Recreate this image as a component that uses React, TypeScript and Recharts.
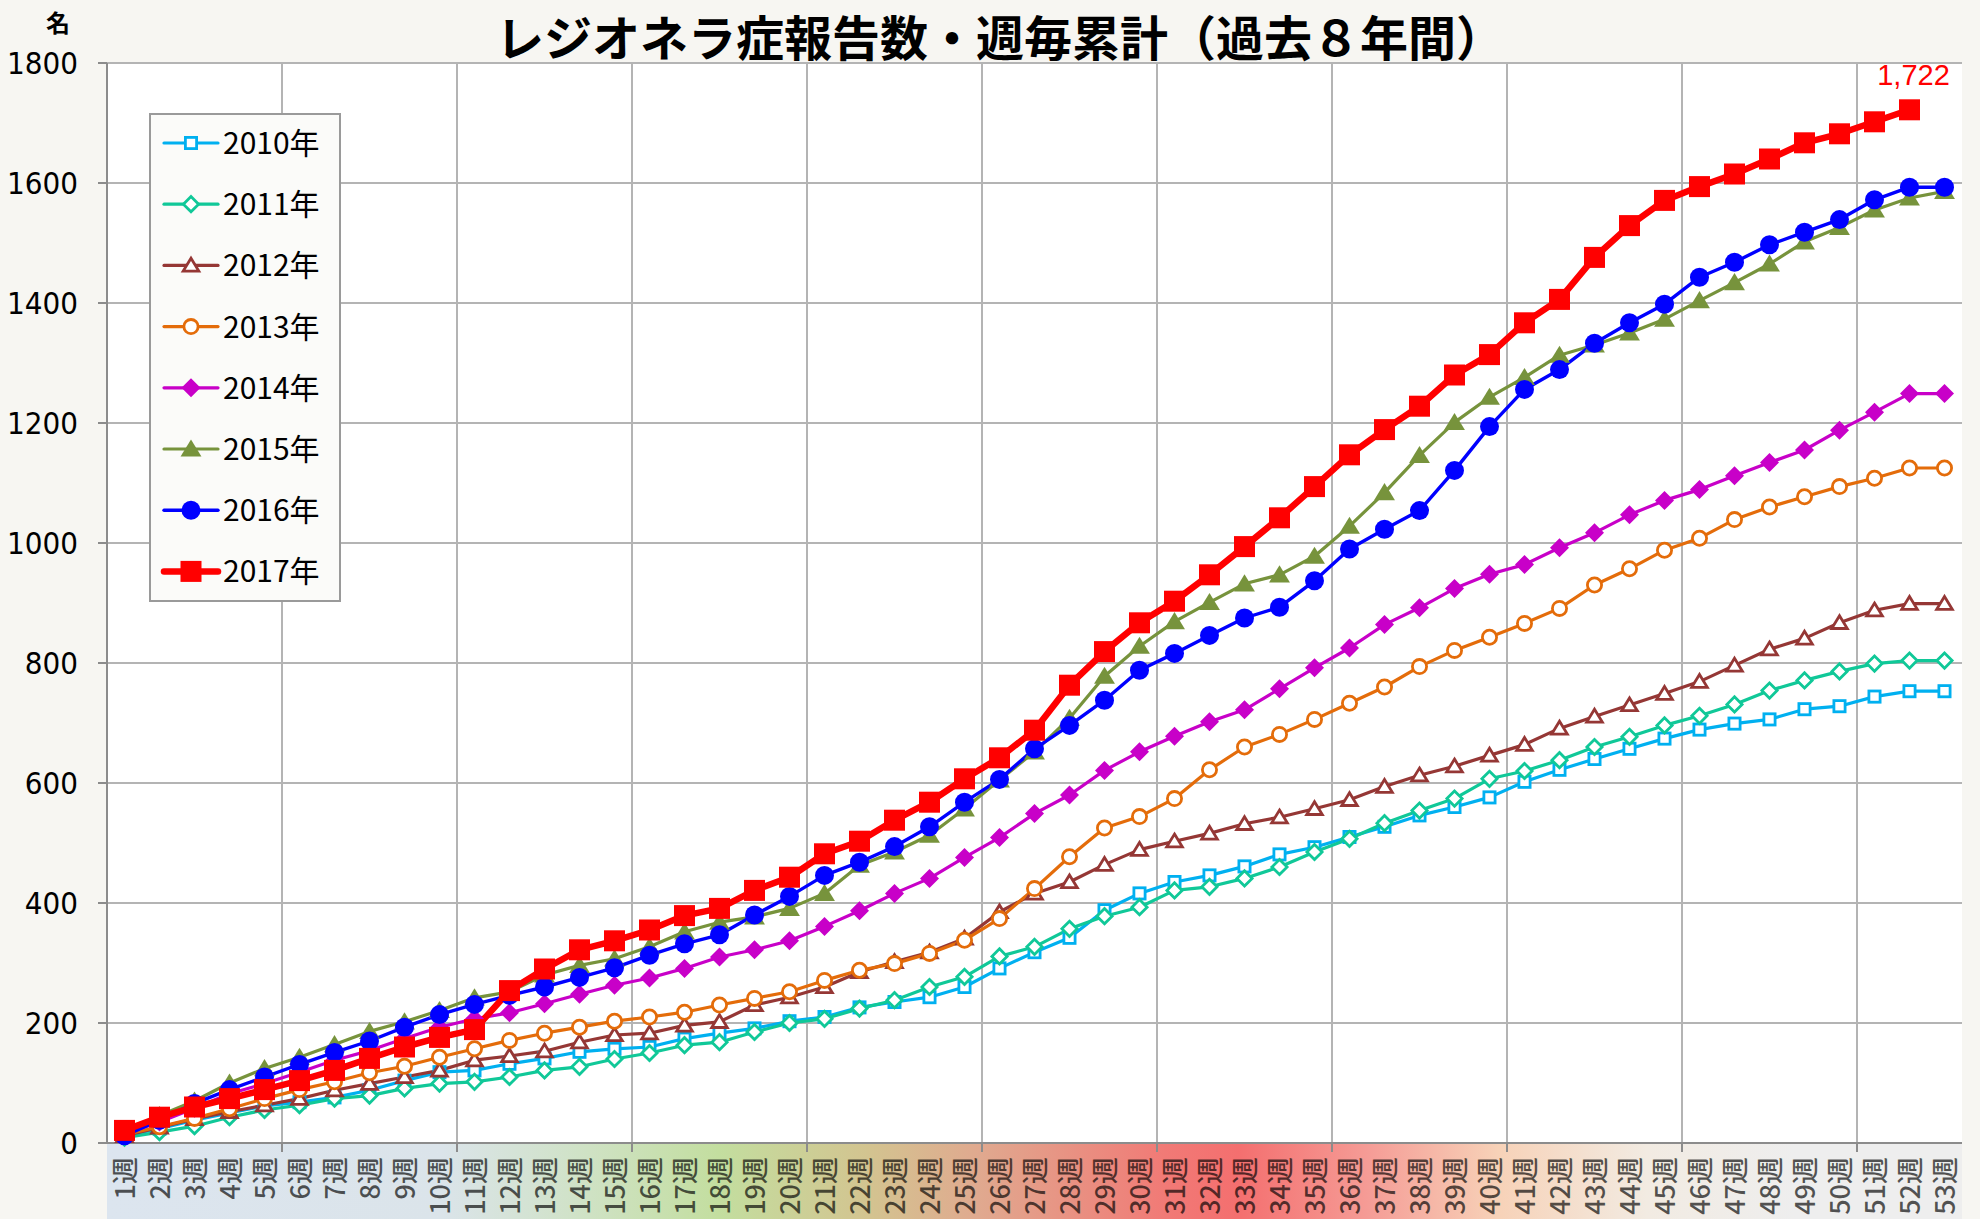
import React from 'react';
import { LineChart, Line, XAxis, YAxis, CartesianGrid, LabelList } from 'recharts';

const weeks = ['1週','2週','3週','4週','5週','6週','7週','8週','9週','10週','11週','12週','13週','14週','15週','16週','17週','18週','19週','20週','21週','22週','23週','24週','25週','26週','27週','28週','29週','30週','31週','32週','33週','34週','35週','36週','37週','38週','39週','40週','41週','42週','43週','44週','45週','46週','47週','48週','49週','50週','51週','52週','53週'];

const y2010 = [12,24,38,50,62,68,76,88,104,118,121,132,141,152,157,160,174,183,191,203,210,226,235,243,260,291,318,342,388,416,435,446,461,481,493,510,527,546,560,576,602,622,640,657,674,689,699,706,723,728,744,753,753];
const y2011 = [9,18,28,43,55,63,74,79,91,99,102,110,121,127,140,150,163,168,185,200,207,224,238,260,277,311,327,357,378,393,421,427,441,460,485,507,533,554,574,607,620,638,660,677,696,712,731,754,771,786,799,804,804];
const y2012 = [12,26,40,52,63,74,88,99,110,121,138,145,153,168,180,183,196,202,230,243,260,285,302,318,341,385,416,435,464,489,503,516,532,543,557,572,594,613,628,646,664,691,711,730,749,769,796,823,841,867,888,899,899];
const y2013 = [14,27,41,57,74,89,102,117,128,143,157,171,183,193,203,210,218,230,241,252,271,288,299,316,338,374,424,477,525,544,574,622,660,681,706,733,760,794,821,843,866,891,930,957,988,1008,1039,1060,1077,1094,1108,1125,1125];
const y2014 = [15,35,58,82,99,118,138,154,174,193,207,217,232,248,263,275,291,310,322,337,361,387,416,441,476,509,549,580,621,652,678,702,722,757,792,825,864,892,924,948,964,992,1017,1047,1071,1089,1112,1134,1155,1188,1218,1249,1249];
const y2015 = [16,46,70,100,124,143,164,186,202,221,242,252,280,296,307,327,352,368,377,391,416,463,485,513,557,605,652,708,778,828,869,901,932,947,978,1028,1084,1146,1201,1243,1276,1313,1330,1350,1373,1404,1434,1465,1502,1526,1555,1575,1586];
const y2016 = [12,38,66,89,110,131,151,170,193,214,231,246,260,276,292,313,332,347,380,411,446,468,494,527,568,606,657,696,738,788,816,846,875,893,937,990,1023,1054,1121,1194,1256,1289,1333,1367,1398,1443,1468,1497,1518,1539,1572,1593,1593];
const y2017 = [21,43,60,74,89,104,121,141,160,176,189,254,290,322,337,355,379,391,421,443,482,503,538,568,607,642,688,763,819,867,903,947,994,1042,1094,1147,1189,1228,1280,1314,1367,1406,1476,1529,1571,1594,1615,1640,1667,1682,1702,1722,null];

const yTicks = [0,200,400,600,800,1000,1200,1400,1600,1800];

const data = weeks.map((w, i) => ({
  week: w,
  y2010: y2010[i], y2011: y2011[i], y2012: y2012[i], y2013: y2013[i],
  y2014: y2014[i], y2015: y2015[i], y2016: y2016[i], y2017: y2017[i],
}));

type Shape = 'square' | 'diamond' | 'triangle' | 'circle';
const SERIES: { key: string; name: string; color: string; width: number; shape: Shape; size: number; filled: boolean }[] = [
  { key: 'y2010', name: '2010年', color: '#00b0f0', width: 3.2, shape: 'square', size: 14, filled: false },
  { key: 'y2011', name: '2011年', color: '#10c898', width: 3.2, shape: 'diamond', size: 18, filled: false },
  { key: 'y2012', name: '2012年', color: '#953735', width: 3.2, shape: 'triangle', size: 17, filled: false },
  { key: 'y2013', name: '2013年', color: '#e46c0a', width: 3.2, shape: 'circle', size: 17, filled: false },
  { key: 'y2014', name: '2014年', color: '#c800c8', width: 3.2, shape: 'diamond', size: 19, filled: true },
  { key: 'y2015', name: '2015年', color: '#77933c', width: 3.2, shape: 'triangle', size: 19, filled: true },
  { key: 'y2016', name: '2016年', color: '#0000ff', width: 3.4, shape: 'circle', size: 19, filled: true },
  { key: 'y2017', name: '2017年', color: '#ff0000', width: 6.5, shape: 'square', size: 21, filled: true },
];

const W = 1980;
const H = 1219;
const PL = 107;
const PR = 1962;
const PT = 63;
const PB = 1143;
const BAND = (PR - PL) / weeks.length;

function marker(shape: Shape, cx: number, cy: number, size: number, color: string, filled: boolean, key?: any) {
  const fill = filled ? color : '#ffffff';
  const sw = filled ? 0 : 2.8;
  const s = filled ? size : size - sw;
  const h = s / 2;
  if (shape === 'square') {
    return <rect key={key} x={cx - h} y={cy - h} width={s} height={s} fill={fill} stroke={color} strokeWidth={sw} />;
  }
  if (shape === 'diamond') {
    return <polygon key={key} points={`${cx},${cy - h} ${cx + h},${cy} ${cx},${cy + h} ${cx - h},${cy}`} fill={fill} stroke={color} strokeWidth={sw} />;
  }
  if (shape === 'triangle') {
    return <polygon key={key} points={`${cx},${cy - h} ${cx + h * 1.1},${cy + h * 0.8} ${cx - h * 1.1},${cy + h * 0.8}`} fill={fill} stroke={color} strokeWidth={sw} />;
  }
  return <circle key={key} cx={cx} cy={cy} r={h} fill={fill} stroke={color} strokeWidth={sw} />;
}

const XTick = (props: any) => {
  const { x, payload, index } = props;
  const top = PB + 14;
  return (
    <g>
      {(index + 1) % 5 === 0 && index < weeks.length - 1 ? (
        <line x1={x + BAND / 2} x2={x + BAND / 2} y1={PB} y2={PB + 9} stroke="#8c8c8c" strokeWidth={2} />
      ) : null}
      <text
        transform={`translate(${x + 10},${top}) rotate(-90)`}
        textAnchor="end"
        fontSize={27}
        fontWeight={500}
        fill="#000000"
        fillOpacity={0.66}
        fontFamily="'Noto Sans CJK JP', sans-serif"
      >
        {payload.value}
      </text>
    </g>
  );
};

const YTick = (props: any) => {
  const { y, payload } = props;
  return (
    <g>
      <line x1={PL - 9} x2={PL} y1={y} y2={y} stroke="#8c8c8c" strokeWidth={2} />
      <text x={78} y={y} dy={11} textAnchor="end" fontSize={31} fill="#000" fontFamily="'Liberation Sans Narrow', 'DejaVu Sans Condensed', 'Roboto Condensed', 'Liberation Sans', sans-serif">
        {payload.value}
      </text>
    </g>
  );
};

const LegendBox = () => (
  <svg width={192} height={489} style={{ display: 'block' }}>
    <rect x={1} y={1} width={190} height={487} fill="#fbfbf9" stroke="#9a9a9a" strokeWidth={2} />
    {SERIES.map((s, i) => {
      const cy = 30 + i * 61.2;
      return (
        <g key={s.key}>
          <line x1={15} x2={69} y1={cy} y2={cy} stroke={s.color} strokeWidth={s.width} strokeLinecap="round" />
          {marker(s.shape, 42, cy, s.size, s.color, s.filled)}
          <text x={74} y={cy + 11} fontSize={30} fill="#000" fontFamily="'Noto Sans CJK JP', sans-serif">{s.name}</text>
        </g>
      );
    })}
  </svg>
);

const RedLabel = (props: any) => {
  const { x, y, value, index } = props;
  if (index !== 51 || value == null) return null;
  return (
    <text x={x + 4} y={y - 25} textAnchor="middle" fill="#ff0000" fontSize={29} fontFamily="'Liberation Sans', Arial, sans-serif">
      {Number(value).toLocaleString('en-US')}
    </text>
  );
};

export default function App() {
  return (
    <div style={{ position: 'relative', width: W, height: H, background: '#f7f6f2', overflow: 'hidden' }}>
      <style>{'body{margin:0;}'}</style>
      <div style={{ position: 'absolute', left: PL, top: PT, width: PR - PL, height: PB - PT, background: '#ffffff' }} />
      <div
        style={{
          position: 'absolute', left: PL, top: PB, width: PR - PL, height: H - PB,
          background: 'linear-gradient(to right, #dce5ef 0%, #dbe4ea 18%, #cfe2c4 26%, #c3de9f 33%, #d3c490 41%, #e0a98f 47%, #f17a76 57%, #f46f6f 61%, #f59c96 68%, #f7d2b8 75%, #f2ebe2 83%, #eeeeee 91%, #eeeeee 100%)',
        }}
      />
      <div style={{ position: 'absolute', left: 0, top: 0, width: W, boxSizing: 'border-box', paddingLeft: 20, textAlign: 'center', fontFamily: "'Noto Sans CJK JP', sans-serif", fontWeight: 700, fontSize: 48, lineHeight: '70px', color: '#000', whiteSpace: 'nowrap' }}>
        レジオネラ症報告数・週毎累計（過去８年間）
      </div>
      <div style={{ position: 'absolute', left: 46, top: 4, fontFamily: "'Noto Sans CJK JP', sans-serif", fontWeight: 700, fontSize: 24, lineHeight: '36px', color: '#000' }}>
        名
      </div>
      <div style={{ position: 'absolute', left: 0, top: 0 }}>
        <LineChart width={W} height={H} data={data} margin={{ top: PT, right: W - PR, bottom: 0, left: 0 }}>
          <CartesianGrid
            stroke="#b4b4b4"
            strokeWidth={2}
            horizontal={true}
            vertical={true}
            verticalCoordinatesGenerator={() => [5, 10, 15, 20, 25, 30, 35, 40, 45, 50].map((k) => PL + k * BAND)}
          />
          <XAxis
            dataKey="week"
            interval={0}
            height={H - PB}
            tickLine={false}
            axisLine={{ stroke: '#8c8c8c', strokeWidth: 2 }}
            padding={{ left: BAND / 2, right: BAND / 2 }}
            tick={<XTick />}
          />
          <YAxis
            width={PL}
            domain={[0, 1800]}
            ticks={yTicks}
            tickLine={false}
            axisLine={{ stroke: '#8c8c8c', strokeWidth: 2 }}
            tick={<YTick />}
          />
          {SERIES.map((s) => (
            <Line
              key={s.key}
              dataKey={s.key}
              name={s.name}
              stroke={s.color}
              strokeWidth={s.width}
              isAnimationActive={false}
              activeDot={false}
              strokeLinejoin="round"
              dot={(p: any) => (p.value == null || p.cx == null ? <g key={p.index} /> : marker(s.shape, p.cx, p.cy, s.size, s.color, s.filled, p.index))}
            >
              {s.key === 'y2017' ? <LabelList dataKey="y2017" content={<RedLabel />} /> : null}
            </Line>
          ))}
        </LineChart>
      </div>
      <div style={{ position: 'absolute', left: 149, top: 113 }}>
        <LegendBox />
      </div>
    </div>
  );
}
